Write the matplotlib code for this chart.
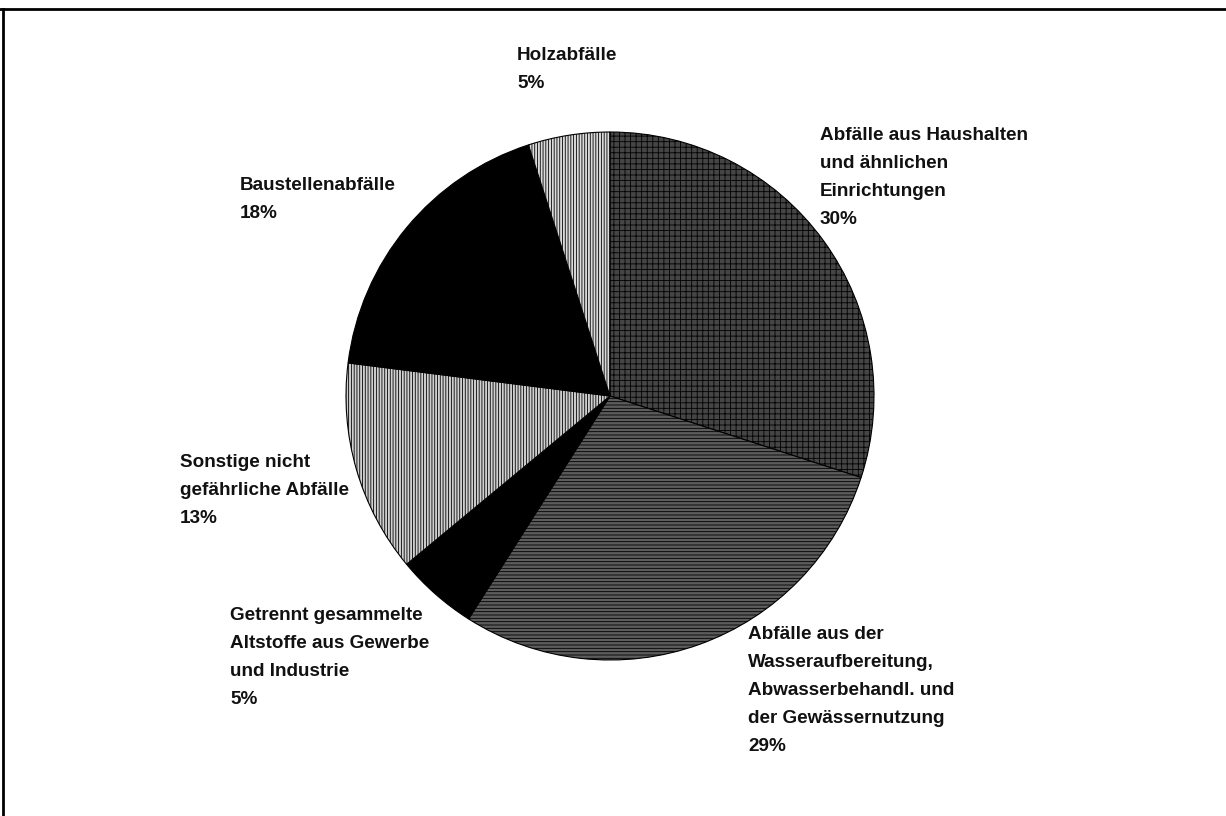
import matplotlib
matplotlib.use("Agg")
import matplotlib.pyplot as plt
from matplotlib.lines import Line2D

# Share of waste categories (%), clockwise from the top
categories = ["Abfälle aus Haushalten\nund ähnlichen\nEinrichtungen",
              "Abfälle aus der\nWasseraufbereitung,\nAbwasserbehandl. und\nder Gewässernutzung",
              "Getrennt gesammelte\nAltstoffe aus Gewerbe\nund Industrie",
              "Sonstige nicht\ngefährliche Abfälle",
              "Baustellenabfälle",
              "Holzabfälle"]
shares = [30, 29, 5, 13, 18, 5]

# slice styling (face colour, hatch)
faces = ["#454545", "#5c5c5c", "#000000", "#d0d0d0", "#000000", "#dadada"]
hatches = ["+++", "-----", "", "||||||", "", "||||||"]

# label anchors in pixel coords (left, top) of the page
label_pos = [(820, 127), (748, 626), (230, 607), (180, 454), (240, 177), (517, 47)]

W, H = 1226, 816
plt.rcParams['font.family'] = ['Liberation Sans', 'DejaVu Sans']
plt.rcParams['hatch.linewidth'] = 0.6

fig = plt.figure(figsize=(W / 100, H / 100), dpi=100)
ax = fig.add_axes([0, 0, 1, 1])

# pie centre/radius in page pixels
cx, cy, r = 610, 396, 264
wedges, _ = ax.pie(shares, startangle=90, counterclock=False,
                   center=(cx, H - cy), radius=r, frame=True,
                   wedgeprops=dict(edgecolor='black', linewidth=0.8))
ax.set_xlim(0, W)
ax.set_ylim(0, H)
ax.set_aspect('equal')
ax.axis('off')
for w, fc, h in zip(wedges, faces, hatches):
    w.set_facecolor(fc)
    if h:
        w.set_hatch(h)

for cat, val, (px, py) in zip(categories, shares, label_pos):
    ax.text(px, H - py, cat + "\n" + f"{val}%", ha='left', va='top',
            fontsize=13.6, fontweight='bold', linespacing=1.84, color='#111111')

# page frame (top and left rule)
fig.add_artist(Line2D([0, 1], [1 - 9 / H, 1 - 9 / H], color='black', lw=2,
                      transform=fig.transFigure))
fig.add_artist(Line2D([3 / W, 3 / W], [0, 1 - 9 / H], color='black', lw=2,
                      transform=fig.transFigure))

fig.savefig('out.png', dpi=100)
